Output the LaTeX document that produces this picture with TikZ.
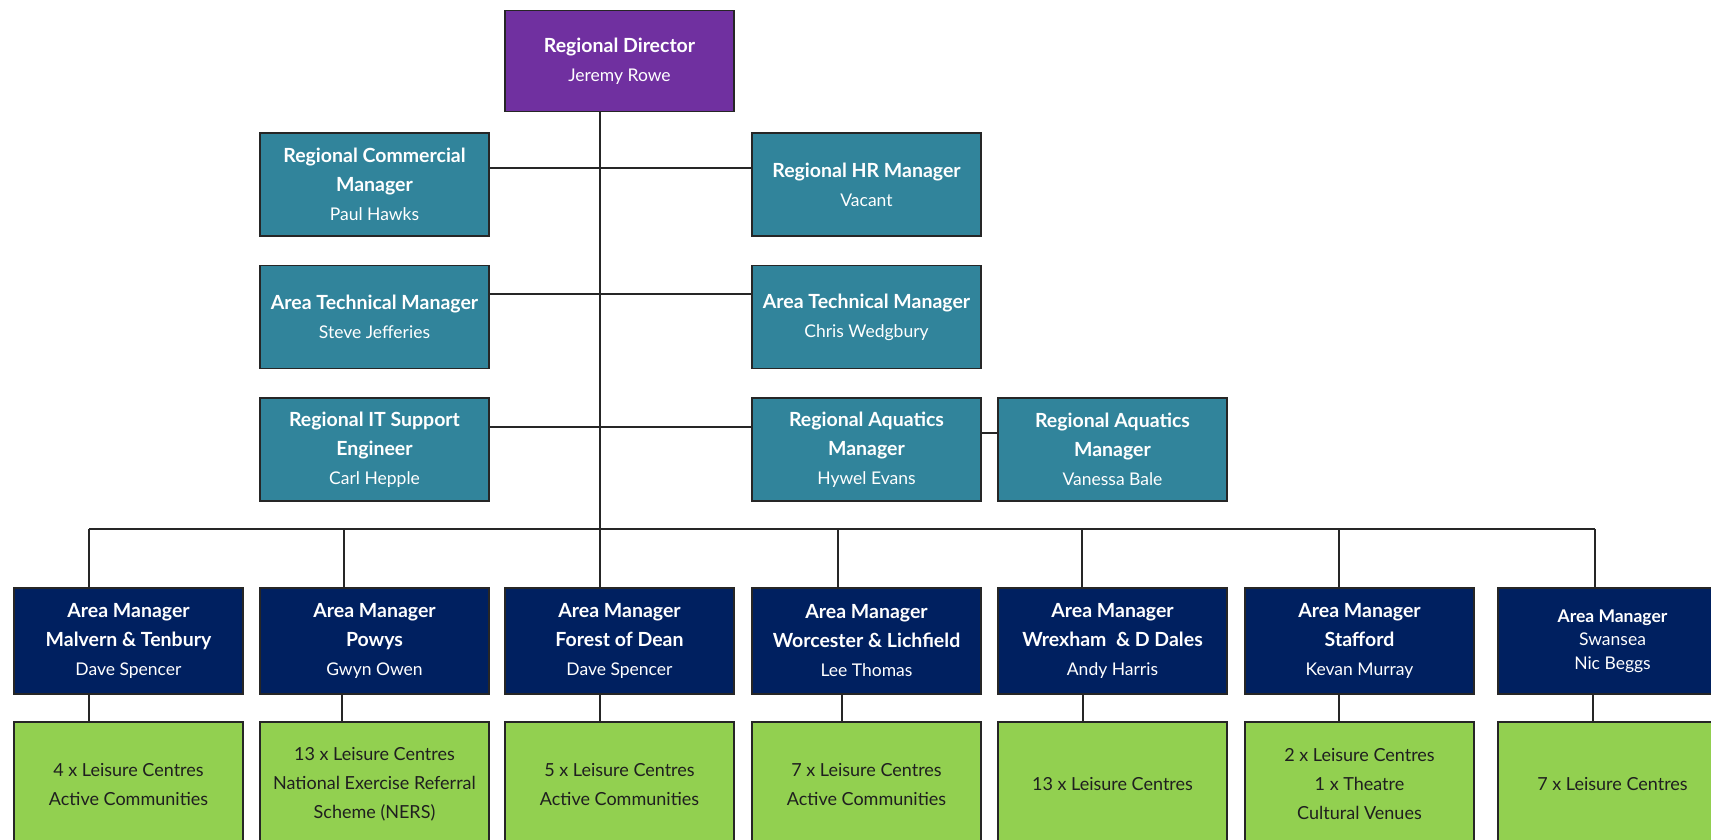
\documentclass[tikz,border=0pt]{standalone}
\usepackage{fontspec}
\setmainfont{Lato}
\definecolor{dirpurple}{HTML}{7030A0}
\definecolor{mgrteal}{HTML}{31849B}
\definecolor{areanavy}{HTML}{002060}
\definecolor{siteGreen}{HTML}{92D050}
\definecolor{linegrey}{HTML}{262626}
\newcommand\hd[1]{{\fontsize{19.5}{29}\selectfont\bfseries #1}}
\newcommand\hds[1]{{\fontsize{17.5}{23.5}\selectfont\bfseries #1}}
\tikzset{
  box/.style={draw=linegrey, line width=1.3pt, inner sep=0pt, outer sep=0pt,
    minimum width=229pt, align=center, text=white,
    font=\fontsize{17.5}{29}\selectfont},
  dirbox/.style={box, fill=dirpurple, minimum height=101pt},
  tealbox/.style={box, fill=mgrteal, minimum height=103pt},
  areabox/.style={box, fill=areanavy, minimum height=106pt},
  sitebox/.style={box, fill=siteGreen, minimum height=124pt, text=black!88,
    font=\fontsize{18}{29}\selectfont},
  link/.style={draw=linegrey, line width=1.3pt}
}
\begin{document}
\begin{tikzpicture}[x=1pt,y=-1pt]
\useasboundingbox (0,0) rectangle (1711,840);
\clip (0,0) rectangle (1711,840);
\fill[white] (0,0) rectangle (1711,840);

% top
\node[dirbox] (dir) at (619.5,61) {\hd{Regional Director}\\Jeremy Rowe};
\node[tealbox] (com) at (374.5,184.5) {\hd{Regional Commercial}\\\hd{Manager}\\Paul Hawks};
\node[tealbox] (hr) at (866.5,184.5) {\hd{Regional HR Manager}\\Vacant};
\node[tealbox] (atl) at (374.5,317) {\hd{Area Technical Manager}\\Steve Jefferies};
\node[tealbox] (atr) at (866.5,317) {\hd{Area Technical Manager}\\Chris Wedgbury};
\node[tealbox] (it) at (374.5,449.5) {\hd{Regional IT Support}\\\hd{Engineer}\\Carl Hepple};
\node[tealbox] (hyw) at (866.5,449.5) {\hd{Regional Aquatics}\\\hd{Manager}\\Hywel Evans};
\node[tealbox] (van) at (1112.5,449.5) {\hd{Regional Aquatics}\\\hd{Manager}\\Vanessa Bale};

% area managers
\node[areabox] (am1) at (128.5,641) {\hd{Area Manager}\\\hd{Malvern \& Tenbury}\\Dave Spencer};
\node[areabox] (am2) at (374.5,641) {\hd{Area Manager}\\\hd{Powys}\\Gwyn Owen};
\node[areabox] (am3) at (619.5,641) {\hd{Area Manager}\\\hd{Forest of Dean}\\Dave Spencer};
\node[areabox] (am4) at (866.5,641) {\hd{Area Manager}\\\hd{Worcester \& Lichfield}\\Lee Thomas};
\node[areabox] (am5) at (1112.5,641) {\hd{Area Manager}\\\hd{Wrexham \ \& D Dales}\\Andy Harris};
\node[areabox] (am6) at (1359.5,641) {\hd{Area Manager}\\\hd{Stafford}\\Kevan Murray};
\node[areabox, font=\fontsize{17.5}{23.5}\selectfont] (am7) at (1612.5,641) {\hds{Area Manager}\\Swansea\\Nic Beggs};

% sites
\node[sitebox] (s1) at (128.5,784) {4 x Leisure Centres\\Active Communities};
\node[sitebox] (s2) at (374.5,784) {13 x Leisure Centres\\National Exercise Referral\\Scheme (NERS)};
\node[sitebox] (s3) at (619.5,784) {5 x Leisure Centres\\Active Communities};
\node[sitebox] (s4) at (866.5,784) {7 x Leisure Centres\\Active Communities};
\node[sitebox] (s5) at (1112.5,784) {13 x Leisure Centres};
\node[sitebox] (s6) at (1359.5,784) {2 x Leisure Centres\\1 x Theatre\\Cultural Venues};
\node[sitebox] (s7) at (1612.5,784) {7 x Leisure Centres};

% helper coordinates
\coordinate (spine) at (600,0);
\coordinate (r1) at (0,168);
\coordinate (r2) at (0,294);
\coordinate (r3) at (0,427);
\coordinate (r3b) at (0,433);
\coordinate (bus) at (0,529);

% spine and side links
\draw[link] (dir.south -| spine) -- (am3.north -| spine);
\draw[link] (com.east |- r1) -- (hr.west |- r1);
\draw[link] (atl.east |- r2) -- (atr.west |- r2);
\draw[link] (it.east |- r3) -- (hyw.west |- r3);
\draw[link] (hyw.east |- r3b) -- (van.west |- r3b);

% bus
\coordinate (d1) at (89,529);
\coordinate (d2) at (344,529);
\coordinate (d4) at (838,529);
\coordinate (d5) at (1082,529);
\coordinate (d6) at (1339,529);
\coordinate (d7) at (1595,529);
\draw[link] (d1) -- (d7);
\foreach \i in {1,2,4,5,6,7} {
  \draw[link] (d\i) -- (d\i |- am\i.north);
}

% area to sites
\coordinate (g1) at (89,0);
\coordinate (g2) at (342,0);
\coordinate (g3) at (600,0);
\coordinate (g4) at (842,0);
\coordinate (g5) at (1083,0);
\coordinate (g6) at (1339,0);
\coordinate (g7) at (1593,0);
\foreach \i in {1,...,7} {
  \draw[link] (am\i.south -| g\i) -- (s\i.north -| g\i);
}
\end{tikzpicture}
\end{document}
